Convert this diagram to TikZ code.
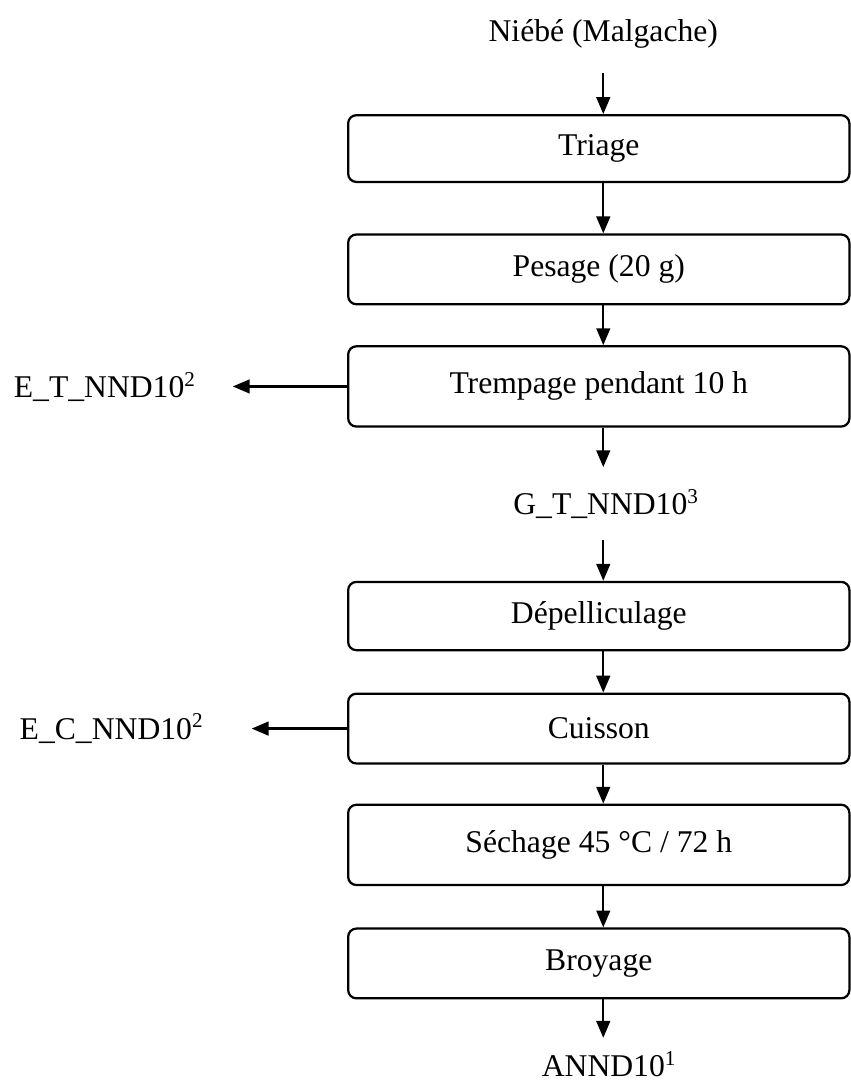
\documentclass[tikz,border=0pt]{standalone}
\usepackage{fontspec}
\setmainfont{Liberation Serif}
\usetikzlibrary{arrows.meta, positioning}
\tikzset{
  stepbox/.style={draw=black,rounded corners=0.11cm,line width=0.85pt,minimum width=6.68cm,minimum height=0.93cm,inner sep=2pt,font=\fontsize{12}{14}\selectfont},
  tallbox/.style={stepbox,minimum height=1.07cm},
  flowtxt/.style={inner sep=0pt,font=\fontsize{12}{14}\selectfont},
  flow/.style={-{Triangle[length=6.4pt,width=5.2pt]},line width=0.85pt,black},
}

\begin{document}
\begin{tikzpicture}
  \useasboundingbox (0,0) rectangle (11.33,-14.46);
  \node[flowtxt] (niebe) at (8.04,-0.45) {Niébé (Malgache)};
  \node[stepbox,minimum height=0.89cm] (triage) at (7.98,-1.98) {Triage};
  \node[stepbox] (pesage) at (7.98,-3.59) {Pesage (20 g)};
  \node[tallbox] (tremp) at (7.98,-5.15) {Trempage pendant 10 h};
  \node[flowtxt] (gtnd) at (8.08,-6.72) {G\_T\_NND10\textsuperscript{3}};
  \node[stepbox,minimum height=0.91cm] (depel) at (7.98,-8.21) {Dépelliculage};
  \node[stepbox] (cuis) at (7.98,-9.71) {Cuisson};
  \node[tallbox] (sech) at (7.98,-11.26) {Séchage 45 °C / 72 h};
  \node[stepbox] (broy) at (7.98,-12.84) {Broyage};
  \node[flowtxt] (annd) at (8.12,-14.18) {ANND10\textsuperscript{1}};
  \node[flowtxt] (etnd) at (1.40,-5.16) {E\_T\_NND10\textsuperscript{2}};
  \node[flowtxt] (ecnd) at (1.49,-9.71) {E\_C\_NND10\textsuperscript{2}};
  % main line
  \draw[flow] (niebe.south -| niebe) ++(0,-0.33) -- (triage.north -| niebe);
  \draw[flow] (triage.south -| niebe) -- (pesage.north -| niebe);
  \draw[flow] (pesage.south -| niebe) -- (tremp.north -| niebe);
  \draw[flow,shorten >=0.29cm] (tremp.south -| niebe) -- (gtnd.north -| niebe);
  \draw[flow,shorten <=0.27cm] (gtnd.south -| niebe) -- (depel.north -| niebe);
  \draw[flow] (depel.south -| niebe) -- (cuis.north -| niebe);
  \draw[flow] (cuis.south -| niebe) -- (sech.north -| niebe);
  \draw[flow] (sech.south -| niebe) -- (broy.north -| niebe);
  \draw[flow,shorten >=0.17cm] (broy.south -| niebe) -- (annd.north -| niebe);
  % side outputs
  \draw[flow,shorten >=0.48cm] (tremp.west) -- (etnd.east |- tremp.west);
  \draw[flow,shorten >=0.63cm] (cuis.west) -- (ecnd.east |- cuis.west);
\end{tikzpicture}
\end{document}
